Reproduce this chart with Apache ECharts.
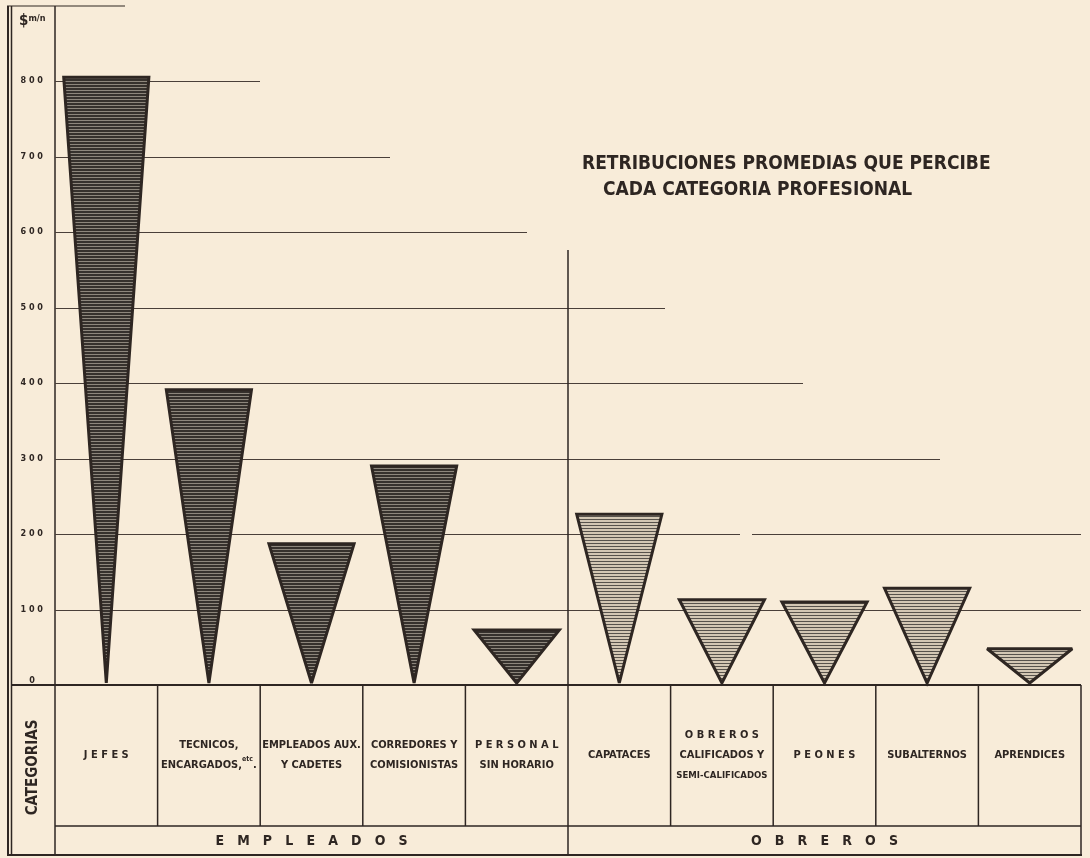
<!DOCTYPE html>
<html>
<head>
<meta charset="utf-8">
<script src="https://cdn.jsdelivr.net/npm/echarts@6/dist/echarts.min.js"></script>
<style>
  html, body { margin: 0; padding: 0; background: #f8ecd9; }
  #chart { width: 1090px; height: 858px; }
</style>
</head>
<body>
<div id="chart"></div>
<script>
// Average monthly pay by professional category ($ m/n)
const categories = [
  'J E F E S',
  'TECNICOS,\nENCARGADOS,{s|etc}.',
  'EMPLEADOS AUX.\nY CADETES',
  'CORREDORES Y\nCOMISIONISTAS',
  'P E R S O N A L\nSIN HORARIO',
  'CAPATACES',
  'O B R E R O S\nCALIFICADOS Y\n{n|SEMI-CALIFICADOS}',
  'P E O N E S',
  'SUBALTERNOS',
  'APRENDICES'
];
const groupOf = [0, 0, 0, 0, 0, 1, 1, 1, 1, 1];
const groups = ['EMPLEADOS', 'OBREROS'];
const salaries = [805, 391, 187, 290, 73, 226, 113, 110, 128, 48];
const yTicks = [100, 200, 300, 400, 500, 600, 700, 800];
const titleLines = ['RETRIBUCIONES PROMEDIAS QUE PERCIBE', 'CADA CATEGORIA PROFESIONAL'];
const unitLabel = '$';
const unitSuffix = 'm/n';
const sideLabel = 'CATEGORIAS';

// Layout (pixels)
const INK = '#2e2622';
const GRID = { left: 55, right: 9, top: 81, bottom: 173 };
const ZERO_Y = 858 - GRID.bottom;      // 685
const ROW_Y = 826;                     // split between category row and group row
const BOTTOM_Y = 855;
const DIVIDER_TOP = 250;
// how far each horizontal rule reaches from the axis, staircase style
const RULE_REACH = { 800: 205, 700: 335, 600: 472, 500: 610, 400: 748, 300: 885, 200: 1026, 100: 1026 };
const RULE_GAP = { 200: [740, 752] };
const FONT = '"DejaVu Sans Condensed", "Liberation Sans Narrow", sans-serif';

function stripes(base, line, pitch, thick) {
  const c = document.createElement('canvas');
  c.width = 8; c.height = pitch;
  const g = c.getContext('2d');
  g.fillStyle = base; g.fillRect(0, 0, 8, pitch);
  g.fillStyle = line; g.fillRect(0, 0, 8, thick);
  return c;
}
const fills = [
  { image: stripes('#36312d', '#8d867c', 3, 1), repeat: 'repeat' },
  { image: stripes('#d3c7b4', '#57524c', 3, 1), repeat: 'repeat' }
];

const chart = echarts.init(document.getElementById('chart'), null, { renderer: 'canvas' });

const option = {
  backgroundColor: '#f8ecd9',
  animation: false,
  grid: GRID,
  title: [
    { text: titleLines[0], left: 577, top: 150,
      textStyle: { fontFamily: FONT, fontSize: 19, fontWeight: 'bold', color: INK } },
    { text: titleLines[1], left: 598, top: 176,
      textStyle: { fontFamily: FONT, fontSize: 19, fontWeight: 'bold', color: INK } }
  ],
  xAxis: {
    type: 'category', data: categories,
    axisLine: { show: false }, axisTick: { show: false }, axisLabel: { show: false },
    splitLine: { show: false }
  },
  yAxis: {
    type: 'value', min: 0, max: 800, interval: 100,
    axisLine: { show: false }, axisTick: { show: false }, splitLine: { show: false },
    axisLabel: {
      margin: 12,
      color: INK, fontFamily: FONT, fontSize: 9, fontWeight: 'bold',
      formatter: v => v === 0 ? '{z|0}' : String(v).split('').join(' '),
      rich: { z: { fontFamily: FONT, fontSize: 9, fontWeight: 'bold', color: INK, padding: [0, 8, 8, 0] } }
    }
  },
  graphic: [
    // frame of the axis column and the table
    { type: 'line', shape: { x1: 8, y1: 6, x2: 8, y2: BOTTOM_Y + 1 }, style: { stroke: INK, lineWidth: 2 } },
    { type: 'line', shape: { x1: 11.5, y1: 6, x2: 11.5, y2: BOTTOM_Y }, style: { stroke: INK, lineWidth: 1.5 } },
    { type: 'line', shape: { x1: 7, y1: 6, x2: 125, y2: 6 }, style: { stroke: INK, lineWidth: 1.2 } },
    { type: 'line', shape: { x1: 55, y1: 6, x2: 55, y2: BOTTOM_Y }, style: { stroke: INK, lineWidth: 1.5 } },
    { type: 'line', shape: { x1: 11, y1: ZERO_Y, x2: 1081, y2: ZERO_Y }, style: { stroke: INK, lineWidth: 2 } },
    { type: 'line', shape: { x1: 55, y1: ROW_Y, x2: 1081, y2: ROW_Y }, style: { stroke: INK, lineWidth: 1.5 } },
    { type: 'line', shape: { x1: 7, y1: BOTTOM_Y, x2: 1082, y2: BOTTOM_Y }, style: { stroke: INK, lineWidth: 2 } },
    { type: 'line', shape: { x1: 1081, y1: ZERO_Y, x2: 1081, y2: BOTTOM_Y }, style: { stroke: INK, lineWidth: 1.5 } },
    // unit at the head of the axis column
    { type: 'text', left: 19, top: 14,
      style: { text: '{d|' + unitLabel + '}{m|' + unitSuffix + '}', fill: INK,
        rich: { d: { fontFamily: FONT, fontSize: 15, fontWeight: 'bold', fill: INK },
                m: { fontFamily: FONT, fontSize: 9, fontWeight: 'bold', fill: INK, verticalAlign: 'top', padding: [0, 0, 4, 0] } } } },
    // side heading of the table
    { type: 'text', x: 33, y: (ZERO_Y + ROW_Y) / 2 + 12, rotation: Math.PI / 2,
      style: { text: sideLabel, align: 'center', verticalAlign: 'middle',
        fontFamily: FONT, fontSize: 15, fontWeight: 'bold', fill: INK } }
  ],
  series: [
    {
      // staircase of horizontal value rules
      type: 'custom', z: 1,
      data: yTicks.map(v => [0, v]),
      renderItem: (params, api) => {
        const v = api.value(1);
        const y = Math.round(api.coord([0, v])[1]) + 0.5;
        const x0 = GRID.left;
        const x1 = x0 + RULE_REACH[v];
        const gap = RULE_GAP[v];
        const segs = gap ? [[x0, gap[0]], [gap[1], x1]] : [[x0, x1]];
        return { type: 'group', children: segs.map(s => ({ type: 'line',
          shape: { x1: s[0], y1: y, x2: s[1], y2: y },
          style: { stroke: '#4a3f39', lineWidth: 1.2 } })) };
      }
    },
    {
      // inverted triangles: top edge at the salary, apex on zero
      type: 'custom', z: 3,
      data: salaries.map((v, i) => [i, v, groupOf[i]]),
      renderItem: (params, api) => {
        const i = api.value(0);
        const top = api.coord([i, api.value(1)]);
        const base = api.coord([i, 0]);
        const half = api.size([1, 0])[0] * 0.415;
        const g = api.value(2);
        return {
          type: 'polygon',
          shape: { points: [[top[0] - half, top[1]], [top[0] + half, top[1]], [base[0], base[1] - 2]] },
          style: { fill: fills[g], stroke: INK, lineWidth: 3, lineJoin: 'miter', miterLimit: 3 }
        };
      }
    },
    {
      // table: category cells, group cells and the group divider
      type: 'custom', z: 2,
      data: categories.map((c, i) => [i, groupOf[i]]),
      renderItem: (params, api) => {
        const i = api.value(0);
        const g = api.value(1);
        const band = api.size([1, 0])[0];
        const cx = api.coord([i, 0])[0];
        const right = cx + band / 2;
        const children = [
          { type: 'text', x: cx, y: (ZERO_Y + ROW_Y) / 2,
            style: { text: categories[i], align: 'center', verticalAlign: 'middle',
              fontFamily: FONT, fontSize: 11, fontWeight: 'bold', fill: INK, lineHeight: 20,
              rich: { s: { fontSize: 7, fontWeight: 'bold', fontFamily: FONT, fill: INK, verticalAlign: 'top', padding: [0, 0, 6, 0] },
                      n: { fontSize: 9.5, fontWeight: 'bold', fontFamily: FONT, fill: INK } } } }
        ];
        if (i < categories.length - 1) {
          const changes = groupOf[i + 1] !== g;
          children.push({ type: 'line',
            shape: { x1: right, y1: changes ? DIVIDER_TOP : ZERO_Y, x2: right, y2: changes ? BOTTOM_Y : ROW_Y },
            style: { stroke: INK, lineWidth: 1.5 } });
        }
        // group label, letter-spaced, at the middle of each group's span
        const members = groupOf.map((gg, k) => gg === g ? k : -1).filter(k => k >= 0);
        if (members[0] === i) {
          const xa = api.coord([members[0], 0])[0] - band / 2;
          const xb = api.coord([members[members.length - 1], 0])[0] + band / 2;
          children.push({ type: 'text', x: (xa + xb) / 2, y: (ROW_Y + BOTTOM_Y) / 2 + 1,
            style: { text: groups[g].split('').join('   '), align: 'center', verticalAlign: 'middle',
              fontFamily: FONT, fontSize: 14, fontWeight: 'bold', fill: INK } });
        }
        return { type: 'group', children };
      }
    }
  ]
};

chart.setOption(option);
</script>
</body>
</html>
